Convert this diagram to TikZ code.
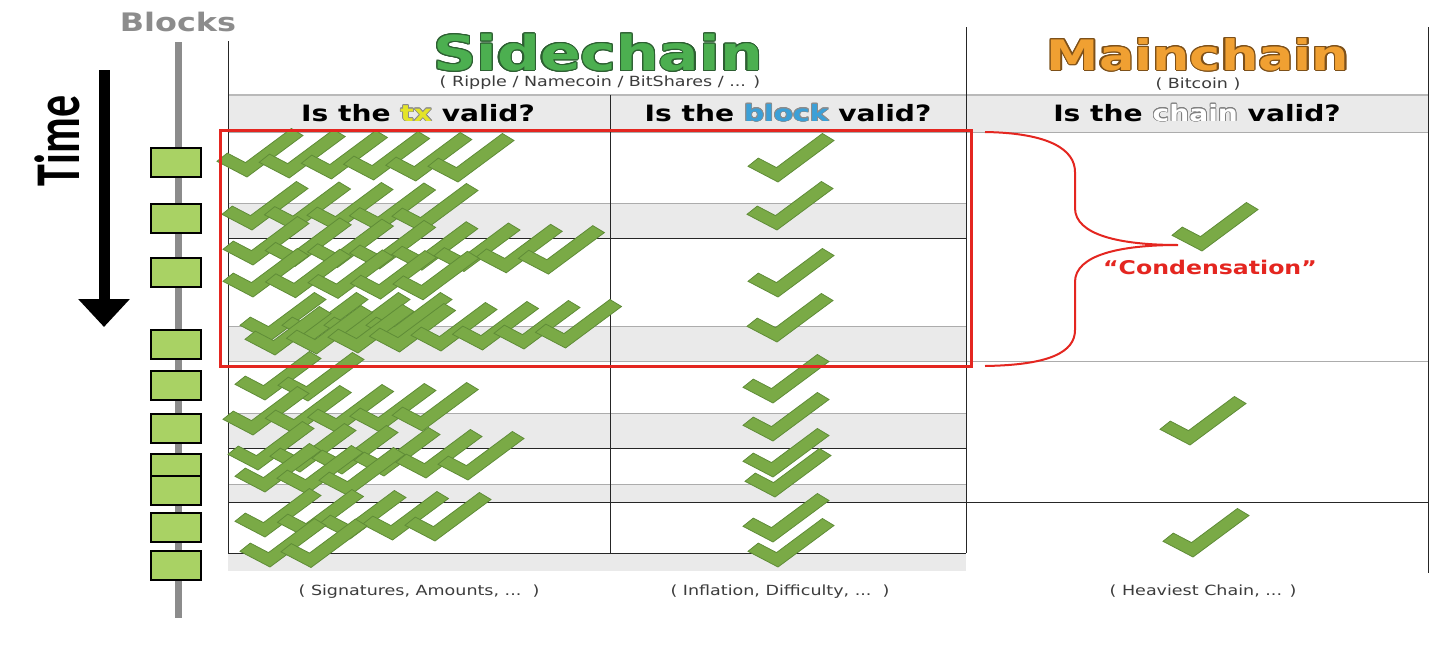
\documentclass[tikz,border=0pt]{standalone}
\usepackage{fontspec}
\setmainfont{DejaVu Sans}
\newfontfamily\timefont{Carlito}
\usepackage{contour}
\usetikzlibrary{arrows.meta,positioning}
\definecolor{checkgreen}{RGB}{122,170,70}
\definecolor{checkedge}{RGB}{95,140,55}
\definecolor{blockgreen}{RGB}{169,210,100}
\definecolor{bargray}{RGB}{140,140,140}
\definecolor{rowgray}{RGB}{234,234,234}
\definecolor{boxred}{RGB}{228,38,32}
\definecolor{sidegreen}{RGB}{76,175,80}
\definecolor{sideedge}{RGB}{45,95,50}
\definecolor{mainorange}{RGB}{240,160,50}
\definecolor{mainedge}{RGB}{125,80,25}
\definecolor{txyellow}{RGB}{228,228,40}
\definecolor{blockblue}{RGB}{60,160,215}
\definecolor{captiongray}{RGB}{60,60,60}
\newcommand{\hstretch}[2][1.25]{\scalebox{#1}[1]{#2}}

\begin{document}
\begin{tikzpicture}[
      x=1pt,y=-1pt,
      block/.style={draw,line width=2.5pt,fill=blockgreen,minimum width=50pt,
                    minimum height=29pt,inner sep=0pt},
      title/.style={font=\bfseries\fontsize{#1}{#1}\selectfont,inner sep=0pt},
      head/.style={font=\bfseries\fontsize{22.5}{22.5}\selectfont},
      caption/.style={font=\fontsize{14}{14}\selectfont,text=captiongray,inner sep=0pt},
      thinline/.style={gray!65,line width=1pt},
      darkline/.style={black!85,line width=1pt},
      tick/.pic={\filldraw[fill=checkgreen,draw=checkedge,line width=0.8pt]
                 (-30,-15.7) -- (-19.7,-23.9) -- (-1.5,-14.4) -- (44.4,-48.5)
                 -- (56,-41.5) -- (0,0) -- cycle;},
    ]
    \useasboundingbox (0,0) rectangle (1448,648);
    \fill[white] (0,0) rectangle (1448,648);

    % Time arrow and block chain
    \node[rotate=90,font=\timefont\bfseries\fontsize{44}{44}\selectfont]
          (time) at (57,141) {\scalebox{1}[1.45]{Time}};
    \coordinate (timeTop) at (104,70);
    \coordinate (timeBot) at (104,327);
    \draw[line width=11pt,-{Triangle[length=28pt,width=50pt]}] (timeTop) -- (timeBot);

    \node[title=25.5,text=bargray] (blocks) at (178,22) {\hstretch{Blocks}};
    \fill[bargray] (175,42) rectangle (182,618);
    \foreach \y [count=\i] in {162.5,218.5,272.5,344.5,385.5,428.5,468.5,490.5,527.5,565.5}
      \node[block] (b\i) at (176,\y) {};

    % Table background
    \fill[rowgray] (228,95) rectangle (1428,132);
    \foreach \ya/\yb in {203/238,326/361,413/448,484/502,553/571}
      \fill[rowgray] (228,\ya) rectangle (966,\yb);

    % Table lines
    \draw[gray!55,line width=2pt] (228,95) -- (1428,95);
    \draw[thinline] (228,132) -- (1428,132);
    \foreach \y in {203,326,413,484}
      \draw[thinline] (228,\y) -- (966,\y);
    \draw[thinline] (228,361) -- (1428,361);
    \foreach \y in {238,448,553}
      \draw[darkline] (228,\y) -- (966,\y);
    \draw[darkline] (228,502) -- (1428,502);
    \draw[darkline] (228,41) -- (228,553);
    \draw[darkline] (610,95) -- (610,553);
    \draw[darkline] (966,27) -- (966,553);
    \draw[darkline] (1428,27) -- (1428,573);

    % Transaction checks (one row per block)
    \foreach \x/\y/\n/\dx/\dy in {247/177/6/42.2/1, 252/230/5/42.5/0.5,
        253/265/8/42.2/1.3, 253/297/5/42.5/0.7, 270/341/4/42/0,
        275/355/8/41.5/-1, 265/400/2/43/1, 253/435/5/42.3/-1,
        258/470/6/42/2, 265/492/3/42/2, 265/537/5/42.5/1, 270/567/2/41/0.5}
      \foreach \i in {1,...,\n}
        \pic at ({\x+(\i-1)*\dx},{\y+(\i-1)*\dy}) {tick};

    % Block checks
    \foreach \x/\y in {778/182,777/230,778/297,777/342,773/403,
                       773/441,773/477,775/497,773/542,778/567}
      \pic at (\x,\y) {tick};

    % Chain checks
    \foreach \x/\y in {1202/251,1190/445,1193/557}
      \pic at (\x,\y) {tick};

    % Condensed part
    \draw[boxred,line width=3pt] (220,130) rectangle (971,366);
    \coordinate (braceTop) at (985,132);
    \coordinate (braceTip) at (1178,245);
    \coordinate (braceBot) at (985,366);
    \draw[boxred,line width=2pt] (braceTop) .. controls (1050,133) and (1075,150) .. (1075,172)
          -- (1075,208) .. controls (1075,235) and (1120,245) .. (braceTip)
          .. controls (1120,245) and (1075,255) .. (1075,282)
          -- (1075,330) .. controls (1075,352) and (1050,365) .. (braceBot);
    \node[title=18.9,text=boxred] (cond) at (1210,267) {\hstretch{“Condensation”}};

    % Titles
    \contourlength{1pt}
    \node[title=48] (side) at (598,53) {\hstretch{\contour{sideedge}{\textcolor{sidegreen}{Sidechain}}}};
    \node[caption] (sideSub) at (600,83) {\hstretch{( Ripple / Namecoin / BitShares / ... )}};
    \node[title=42] (main) at (1198,55) {\hstretch{\contour{mainedge}{\textcolor{mainorange}{Mainchain}}}};
    \node[caption] (mainSub) at (1198,84) {\hstretch{( Bitcoin )}};

    % Column heads
    \contourlength{0.6pt}
    \node[head] (txHead) at (418,113)
          {\hstretch{Is the \contour{black!45}{\textcolor{txyellow}{tx}} valid?}};
    \node[head] (blockHead) at (788,113)
          {\hstretch{Is the \contour{black!45}{\textcolor{blockblue}{block}} valid?}};
    \node[head] (chainHead) at (1197,113)
          {\hstretch{Is the \contour{gray}{\textcolor{white}{chain}} valid?}};

    % Footnotes
    \node[caption] (txFoot) at (419,592) {\hstretch{( Signatures, Amounts, ...\ \ )}};
    \node[caption] (blockFoot) at (780,592) {\hstretch{( Inflation, Difficulty, ...\ \ )}};
    \node[caption] (chainFoot) at (1203,591) {\hstretch{( Heaviest Chain, ... )}};
  \end{tikzpicture}
\end{document}
